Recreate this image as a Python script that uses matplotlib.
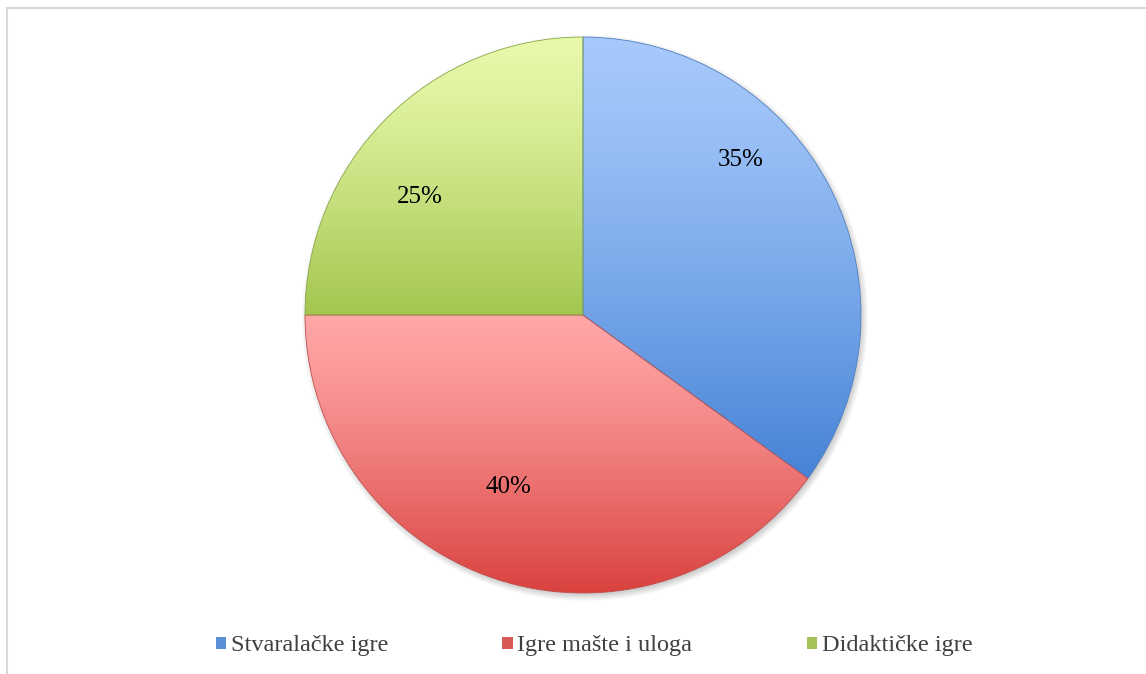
import numpy as np
import matplotlib
matplotlib.use("Agg")
import matplotlib.pyplot as plt
from matplotlib.patches import Rectangle
from matplotlib.colors import to_rgb

# Data
categories = ["Stvaralačke igre", "Igre mašte i uloga", "Didaktičke igre"]
shares = [35, 40, 25]
labels = ["35%", "40%", "25%"]

# Vertical gradient (top, bottom) per slice
top_colors = ["#a6c9fb", "#ffa6a6", "#e8f9aa"]
bottom_colors = ["#4683d6", "#d9413e", "#a2c64f"]
edge_colors = ["#4f7fc0", "#c24e4b", "#8aa84a"]

W, H = 1146, 674
fig = plt.figure(figsize=(W / 100, H / 100), dpi=100)
ax = fig.add_axes([0, 0, 1, 1])

plt.rcParams["font.family"] = ["Liberation Serif", "DejaVu Serif"]

cx, cy, r = 583, H - 315, 278

# Soft drop shadow beneath the pie
xs = np.linspace(cx - r - 20, cx + r + 20, 400)
ys = np.linspace(cy - r - 20, cy + r + 20, 400)
X, Y = np.meshgrid(xs, ys)
d = np.hypot(X - (cx + 2), Y - (cy - 3))
a = np.clip((r + 6 - d) / 8, 0, 1) * 0.35
sh = np.zeros(X.shape + (4,))
sh[..., :3] = 0.4
sh[..., 3] = a
ax.imshow(sh, extent=(xs[0], xs[-1], ys[0], ys[-1]), origin="lower",
          zorder=1, interpolation="bilinear")

wedges, _ = ax.pie(shares, startangle=90, counterclock=False,
                   center=(cx, cy), radius=r, frame=True,
                   wedgeprops=dict(linewidth=0.6))
ax.set_xlim(0, W)
ax.set_ylim(0, H)
ax.set_aspect("equal")
ax.axis("off")

# Outer chart frame
ax.add_patch(Rectangle((7, -20), W + 20, H - 8 + 20, fill=False,
                       edgecolor="#d9d9d9", linewidth=1.5, zorder=0))

for w, tc, bc, ec in zip(wedges, top_colors, bottom_colors, edge_colors):
    w.set_facecolor("none")
    w.set_edgecolor(ec)
    w.set_zorder(3)
    ext = w.get_path().get_extents(w.get_patch_transform())
    n = 256
    t = np.linspace(0, 1, n)[:, None] ** 1.3
    grad = (1 - t) * np.array(to_rgb(tc)) + t * np.array(to_rgb(bc))
    img = ax.imshow(grad[:, None, :], extent=(ext.x0, ext.x1, ext.y0, ext.y1),
                    origin="upper", aspect="auto", interpolation="bilinear",
                    zorder=2)
    img.set_clip_path(w)

# Percentage labels
label_pos = [(741, 160), (508, 487), (420, 197)]
for (lx, ly), txt in zip(label_pos, labels):
    ax.text(lx, H - ly, txt, ha="center", va="center", fontsize=18,
            color="black", zorder=5)

# Legend
handles = [Rectangle((0, 0), 1, 1, facecolor=c, edgecolor="none")
           for c in ["#5a8fd6", "#d85a57", "#a4c45a"]]
leg = ax.legend(handles, categories, loc="center",
                bbox_to_anchor=(594 / W, 1 - 646 / H),
                ncol=3, frameon=False, fontsize=17.5, handlelength=0.42,
                handleheight=0.42, handletextpad=0.2, columnspacing=4.7,
                borderaxespad=0)
for t in leg.get_texts():
    t.set_color("#404040")

fig.savefig("out.png", dpi=100)
